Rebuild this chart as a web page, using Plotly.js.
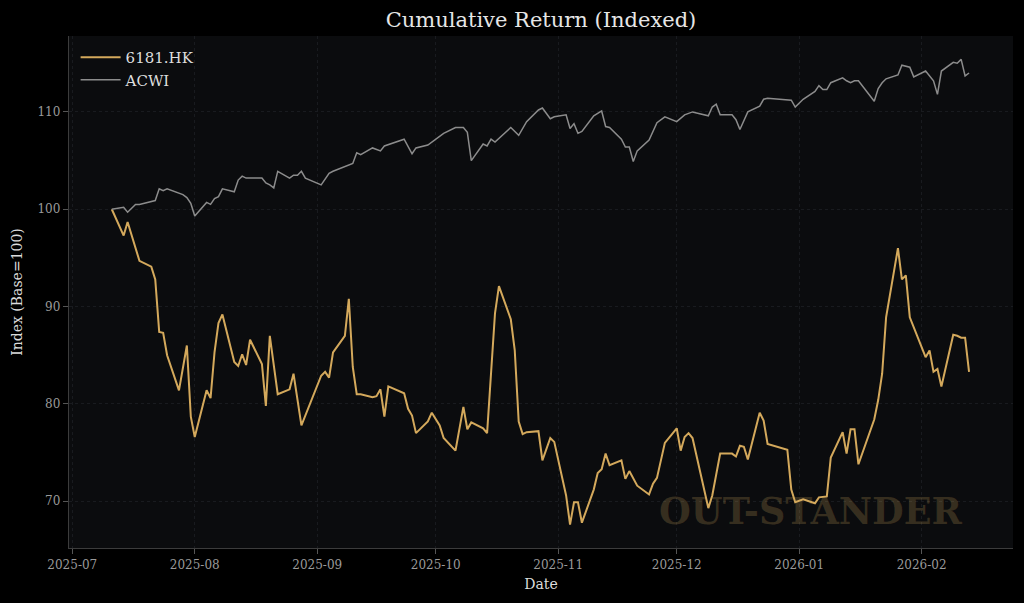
<!DOCTYPE html>
<html>
<head>
<meta charset="utf-8">
<script src="https://cdn.plot.ly/plotly-3.0.1.min.js"></script>
<style>
html,body{margin:0;padding:0;background:#000;}
#chart{width:1024px;height:603px;}
</style>
</head>
<body>
<div id="chart"></div>
<script>
const hkDates = ["2025-07-11","2025-07-14","2025-07-15","2025-07-18","2025-07-21","2025-07-22","2025-07-23","2025-07-24","2025-07-25","2025-07-28","2025-07-30","2025-07-31","2025-08-01","2025-08-04","2025-08-05","2025-08-06","2025-08-07","2025-08-08","2025-08-11","2025-08-12","2025-08-13","2025-08-14","2025-08-15","2025-08-18","2025-08-19","2025-08-20","2025-08-22","2025-08-25","2025-08-26","2025-08-28","2025-09-02","2025-09-03","2025-09-04","2025-09-05","2025-09-08","2025-09-09","2025-09-10","2025-09-11","2025-09-12","2025-09-15","2025-09-16","2025-09-17","2025-09-18","2025-09-19","2025-09-23","2025-09-24","2025-09-25","2025-09-26","2025-09-29","2025-09-30","2025-10-02","2025-10-03","2025-10-06","2025-10-08","2025-10-09","2025-10-10","2025-10-13","2025-10-14","2025-10-16","2025-10-17","2025-10-20","2025-10-21","2025-10-22","2025-10-23","2025-10-24","2025-10-27","2025-10-28","2025-10-30","2025-10-31","2025-11-03","2025-11-04","2025-11-05","2025-11-06","2025-11-07","2025-11-10","2025-11-11","2025-11-12","2025-11-13","2025-11-14","2025-11-17","2025-11-18","2025-11-19","2025-11-21","2025-11-24","2025-11-25","2025-11-26","2025-11-28","2025-12-01","2025-12-02","2025-12-03","2025-12-04","2025-12-05","2025-12-09","2025-12-10","2025-12-12","2025-12-15","2025-12-16","2025-12-17","2025-12-18","2025-12-19","2025-12-22","2025-12-23","2025-12-24","2025-12-29","2025-12-30","2025-12-31","2026-01-02","2026-01-05","2026-01-06","2026-01-08","2026-01-09","2026-01-12","2026-01-13","2026-01-14","2026-01-15","2026-01-16","2026-01-20","2026-01-21","2026-01-22","2026-01-23","2026-01-26","2026-01-27","2026-01-28","2026-01-29","2026-02-02","2026-02-03","2026-02-04","2026-02-05","2026-02-06","2026-02-09","2026-02-10","2026-02-11","2026-02-12","2026-02-13"];
const hkValues = [100.0,97.3,98.7,94.7,94.1,92.8,87.4,87.3,85.0,81.4,86.0,78.7,76.6,81.4,80.6,85.3,88.3,89.2,84.3,83.9,85.1,84.0,86.6,84.1,79.8,87.0,81.0,81.5,83.1,77.8,82.9,83.3,82.7,85.3,87.0,90.8,83.8,81.0,81.0,80.7,80.8,81.5,78.7,81.8,81.1,79.5,78.8,77.0,78.2,79.1,77.8,76.5,75.2,79.7,77.4,78.1,77.5,77.0,89.3,92.1,88.7,85.5,78.2,76.9,77.1,77.2,74.2,76.5,76.1,70.6,67.6,69.9,69.9,67.8,71.2,72.9,73.3,74.9,73.7,74.2,72.3,73.1,71.6,70.7,71.8,72.4,76.0,77.5,75.2,76.6,77.0,76.5,69.3,70.6,74.9,74.9,74.6,75.7,75.6,74.3,79.1,78.3,75.9,75.3,71.2,69.9,70.2,69.8,70.4,70.5,74.5,77.1,74.9,77.4,77.4,73.8,78.4,80.4,83.1,88.9,96.0,92.8,93.2,88.9,84.8,85.5,83.3,83.6,81.8,87.1,87.0,86.8,86.8,83.3];

const acwiDates = ["2025-07-11","2025-07-14","2025-07-15","2025-07-17","2025-07-18","2025-07-22","2025-07-23","2025-07-24","2025-07-25","2025-07-29","2025-07-30","2025-07-31","2025-08-01","2025-08-04","2025-08-05","2025-08-06","2025-08-07","2025-08-08","2025-08-11","2025-08-12","2025-08-13","2025-08-14","2025-08-18","2025-08-19","2025-08-20","2025-08-21","2025-08-22","2025-08-25","2025-08-26","2025-08-27","2025-08-28","2025-08-29","2025-09-02","2025-09-04","2025-09-05","2025-09-10","2025-09-11","2025-09-12","2025-09-15","2025-09-17","2025-09-18","2025-09-23","2025-09-25","2025-09-26","2025-09-29","2025-10-03","2025-10-06","2025-10-08","2025-10-09","2025-10-10","2025-10-13","2025-10-14","2025-10-15","2025-10-16","2025-10-20","2025-10-22","2025-10-24","2025-10-27","2025-10-28","2025-10-30","2025-10-31","2025-11-03","2025-11-04","2025-11-05","2025-11-06","2025-11-07","2025-11-10","2025-11-12","2025-11-13","2025-11-14","2025-11-17","2025-11-18","2025-11-19","2025-11-20","2025-11-21","2025-11-24","2025-11-26","2025-11-28","2025-12-01","2025-12-03","2025-12-05","2025-12-09","2025-12-10","2025-12-11","2025-12-12","2025-12-15","2025-12-16","2025-12-17","2025-12-19","2025-12-22","2025-12-23","2025-12-24","2025-12-30","2025-12-31","2026-01-02","2026-01-05","2026-01-06","2026-01-07","2026-01-08","2026-01-09","2026-01-12","2026-01-13","2026-01-14","2026-01-15","2026-01-16","2026-01-20","2026-01-21","2026-01-22","2026-01-23","2026-01-26","2026-01-27","2026-01-29","2026-01-30","2026-02-02","2026-02-04","2026-02-05","2026-02-06","2026-02-09","2026-02-10","2026-02-11","2026-02-12","2026-02-13"];
const acwiValues = [100.0,100.2,99.7,100.5,100.5,100.9,102.1,101.9,102.1,101.5,101.2,100.6,99.3,100.7,100.5,101.1,101.3,102.1,101.8,103.0,103.4,103.2,103.2,102.7,102.5,102.2,103.9,103.2,103.5,103.5,103.9,103.2,102.5,103.7,103.9,104.7,105.8,105.6,106.3,106.0,106.5,107.2,105.7,106.3,106.6,107.8,108.4,108.4,107.9,105.0,106.7,106.5,107.2,106.9,108.4,107.6,109.0,110.2,110.4,109.3,109.5,109.7,108.3,108.8,107.8,108.0,109.6,110.1,108.5,108.4,107.2,106.4,106.4,104.9,106.0,107.1,108.9,109.5,109.0,109.7,110.0,109.6,110.5,110.8,109.7,109.7,109.2,108.2,110.0,110.6,111.3,111.4,111.2,110.5,111.3,112.1,112.7,112.3,112.3,113.0,113.5,113.2,113.0,113.2,113.2,111.1,112.4,113.0,113.4,113.8,114.8,114.6,113.6,114.2,113.2,111.8,114.2,115.1,115.0,115.4,113.7,114.0];

const yTicks = [70, 80, 90, 100, 110];
const seriesNames = ["6181.HK", "ACWI"];

const serif = "DejaVu Serif, Liberation Serif, serif";

const traces = [
  {x: hkDates, y: hkValues, name: seriesNames[0], type: "scatter", mode: "lines",
   line: {color: "#d4a95c", width: 2}},
  {x: acwiDates, y: acwiValues, name: seriesNames[1], type: "scatter", mode: "lines",
   line: {color: "#8c8c8c", width: 1.5}}
];

const axisCommon = {
  showline: true, linecolor: "#3c3c3c", linewidth: 1.2, mirror: false,
  ticks: "outside", ticklen: 5, tickwidth: 1, tickcolor: "#555",
  showgrid: true, gridcolor: "#191b1f", griddash: "dot", gridwidth: 1,
  zeroline: false,
  tickfont: {family: serif, size: 12, color: "#9a9a9a"}
};

const layout = {
  width: 1024, height: 603,
  paper_bgcolor: "#000000",
  plot_bgcolor: "#0b0c0e",
  margin: {l: 69, r: 11, t: 36, b: 55},
  title: {text: "Cumulative Return (Indexed)", xref: "paper", x: 0.5, xanchor: "center",
          yref: "container", y: 0.968, yanchor: "middle",
          font: {family: serif, size: 21, color: "#e6e6e6"}},
  xaxis: Object.assign({}, axisCommon, {
    type: "date",
    range: ["2025-06-30 04:00", "2026-02-24 03:00"],
    tick0: "2025-07-01", dtick: "M1", tickformat: "%Y-%m",
    title: {text: "Date", font: {family: serif, size: 14, color: "#dcdcdc"}, standoff: 8}
  }),
  yaxis: Object.assign({}, axisCommon, {
    range: [65.2, 117.8],
    tickvals: yTicks,
    title: {text: "Index (Base=100)", font: {family: serif, size: 14, color: "#dcdcdc"}, standoff: 11}
  }),
  showlegend: true,
  legend: {x: 0.007, y: 0.99, xanchor: "left", yanchor: "top",
           bgcolor: "rgba(0,0,0,0)", borderwidth: 0,
           font: {family: serif, size: 15, color: "#dedede"},
           itemwidth: 40, tracegroupgap: 0},
  annotations: [{
    text: "<b>OUT-STANDER</b>", xref: "paper", yref: "paper",
    x: 0.949, y: 0.072, xanchor: "right", yanchor: "middle", showarrow: false,
    font: {family: serif, size: 36.5, color: "rgba(212,169,92,0.22)"}
  }]
};

Plotly.newPlot("chart", traces, layout, {displayModeBar: false, staticPlot: true});
</script>
</body>
</html>
